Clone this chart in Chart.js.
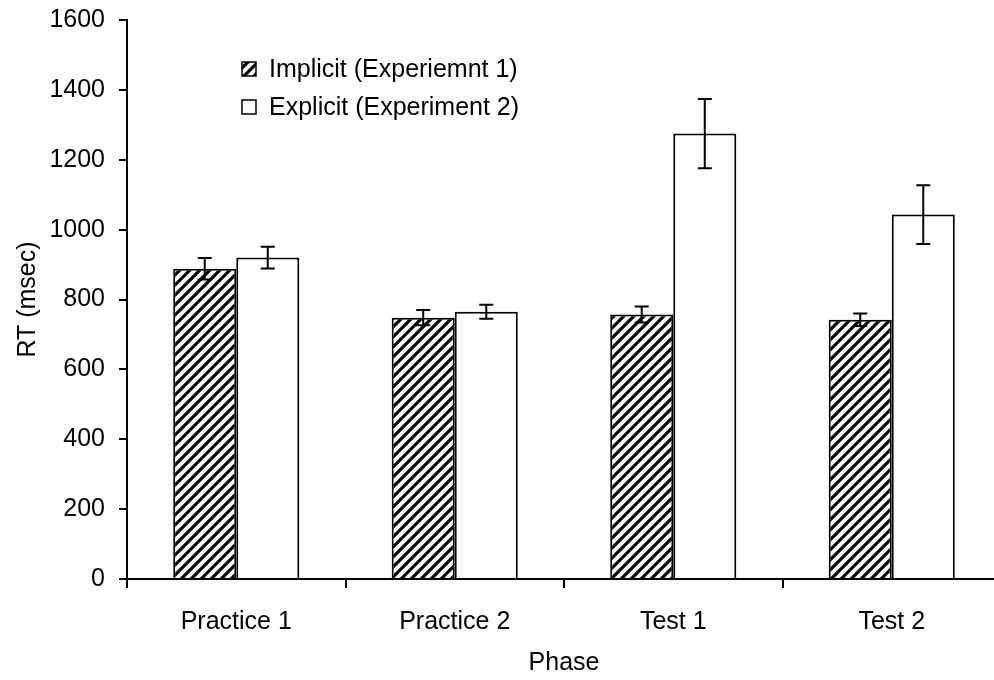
<!DOCTYPE html>
<html>
<head>
<meta charset="utf-8">
<script src="https://cdn.jsdelivr.net/npm/chart.js@4.4.1/dist/chart.umd.min.js"></script>
<style>
  html, body { margin: 0; padding: 0; background: #fff; overflow: hidden; }
  #wrap { width: 1010px; height: 680px; }
</style>
</head>
<body>
<div id="wrap"><canvas id="rt-chart" width="1010" height="680"></canvas></div>
<script>
// data
const phases = ["Practice 1", "Practice 2", "Test 1", "Test 2"];
const implicitRT = [888, 748, 757, 742];
const explicitRT = [920, 765, 1275, 1043];
const implicitErr = [31, 22, 23, 18];
const explicitErr = [31, 20, 99, 84];
const seriesNames = ["Implicit (Experiemnt 1)", "Explicit (Experiment 2)"];
const yMax = 1600;
const yStep = 200;

const FONT = "'Liberation Sans', Arial, sans-serif";
const FSIZE = 25;

// diagonal hatch fill
function makeHatch() {
    var c = document.createElement("canvas");
    c.width = 10; c.height = 10;
    var g = c.getContext("2d");
    g.fillStyle = "#fff";
    g.fillRect(0, 0, 10, 10);
    g.strokeStyle = "#000";
    g.lineWidth = 3.2;
    g.beginPath();
    g.moveTo(-2, 12); g.lineTo(12, -2);
    g.moveTo(-2, 2); g.lineTo(2, -2);
    g.moveTo(8, 12); g.lineTo(12, 8);
    g.stroke();
    return g.createPattern(c, "repeat");
}
const hatch = makeHatch();

// error bars
const errorBars = {
    id: "errorBars",
    afterDatasetsDraw(chart) {
        var ctx = chart.ctx;
        var y = chart.scales.y;
        var errs = [implicitErr, explicitErr];
        ctx.save();
        ctx.strokeStyle = "#000";
        ctx.lineWidth = 2;
        chart.data.datasets.forEach(function(ds, i) {
            chart.getDatasetMeta(i).data.forEach(function(bar, j) {
                var v = ds.data[j], e = errs[i][j];
                var top = y.getPixelForValue(v + e);
                var bot = y.getPixelForValue(v - e);
                var x = bar.x, w = 7;
                ctx.beginPath();
                ctx.moveTo(x, top); ctx.lineTo(x, bot);
                ctx.moveTo(x - w, top); ctx.lineTo(x + w, top);
                ctx.moveTo(x - w, bot); ctx.lineTo(x + w, bot);
                ctx.stroke();
            });
        });
        ctx.restore();
    }
};

// legend inside the plot
const innerLegend = {
    id: "innerLegend",
    afterDraw(chart) {
        var ctx = chart.ctx;
        ctx.save();
        ctx.font = FSIZE + "px " + FONT;
        ctx.textBaseline = "middle";
        chart.data.datasets.forEach(function(ds, i) {
            var bx = 242, by = 62 + i * 38;
            ctx.fillStyle = ds.backgroundColor;
            ctx.fillRect(bx, by, 14, 14);
            ctx.strokeStyle = "#000";
            ctx.lineWidth = 1.5;
            ctx.strokeRect(bx, by, 14, 14);
            ctx.fillStyle = "#000";
            ctx.fillText(ds.label, 269, by + 8);
        });
        ctx.restore();
    }
};

var ctx = document.getElementById("rt-chart").getContext("2d");
var rtChart = new Chart(ctx, {
    type: "bar",
    data: {
        labels: phases,
        datasets: [{
            label: seriesNames[0],
            data: implicitRT,
            backgroundColor: hatch,
            borderColor: "#000",
            borderWidth: 2
        }, {
            label: seriesNames[1],
            data: explicitRT,
            backgroundColor: "#fff",
            borderColor: "#000",
            borderWidth: 2
        }]
    },
    options: {
        responsive: false,
        animation: false,
        layout: { padding: { top: 20, right: 9, left: 0, bottom: 0 } },
        categoryPercentage: 0.577,
        barPercentage: 1.0,
        plugins: {
            legend: { display: false },
            tooltip: { enabled: false }
        },
        scales: {
            x: {
                afterFit: function(s) { s.height = 101; s.paddingLeft = 0; s.paddingRight = 0; },
                grid: { drawOnChartArea: false, drawTicks: true, tickLength: 9, color: "#000", lineWidth: 2 },
                border: { color: "#000", width: 2 },
                ticks: { color: "#000", font: { family: FONT, size: FSIZE }, padding: 19 },
                title: { display: true, text: "Phase", color: "#000", font: { family: FONT, size: FSIZE }, padding: { top: 0, bottom: 2 } }
            },
            y: {
                min: 0,
                max: yMax,
                afterFit: function(s) { s.width = 127; s.paddingTop = 0; s.paddingBottom = 0; },
                grid: { drawOnChartArea: false, drawTicks: true, tickLength: 8, color: "#000", lineWidth: 2 },
                border: { color: "#000", width: 2 },
                ticks: {
                    stepSize: yStep, color: "#000", font: { family: FONT, size: FSIZE }, padding: 14,
                    callback: function(v) { return String(v); }
                },
                title: { display: true, text: "RT (msec)", color: "#000", font: { family: FONT, size: FSIZE }, padding: { top: 13, bottom: 0 } }
            }
        }
    },
    plugins: [errorBars, innerLegend]
});
</script>
</body>
</html>
